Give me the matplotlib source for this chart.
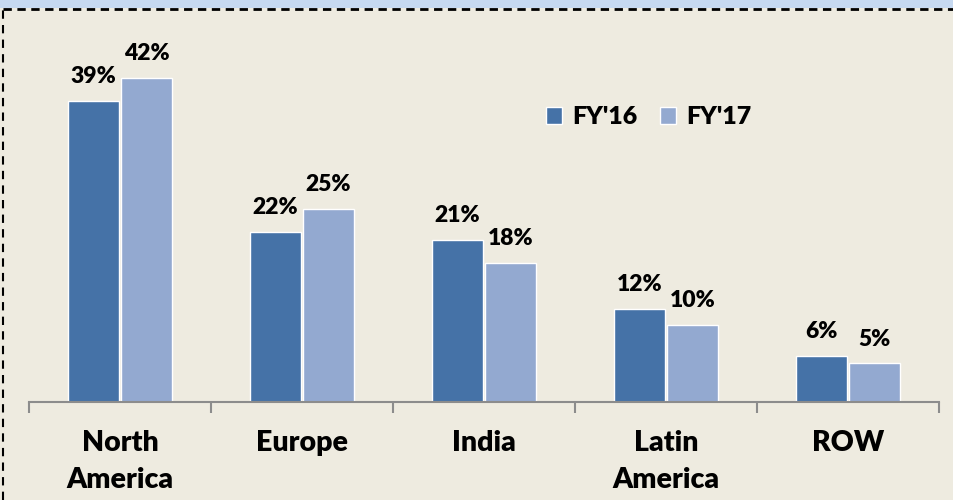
import numpy as np
import matplotlib.pyplot as plt
from matplotlib.lines import Line2D
from matplotlib.patches import Rectangle

regions = ["North\nAmerica", "Europe", "India", "Latin\nAmerica", "ROW"]
fy16 = [39, 22, 21, 12, 6]
fy17 = [42, 25, 18, 10, 5]
series_names = ["FY'16", "FY'17"]

C16 = "#4572A7"
C17 = "#93A9D0"
BG = "#EEEBE0"

plt.rcParams['font.family'] = ['Lato', 'DejaVu Sans']

fig = plt.figure(figsize=(9.54, 5.0), dpi=100)
fig.patch.set_facecolor(BG)

# top blue band + dashed frame
fig.patches.append(Rectangle((0, 1 - 8 / 500), 1, 8 / 500, transform=fig.transFigure,
                             facecolor="#C6D9F1", edgecolor="none"))
fig.lines.append(Line2D([0.003, 1], [1 - 9 / 500] * 2, transform=fig.transFigure,
                        color="black", lw=2, ls=(0, (3, 2))))
fig.lines.append(Line2D([0.003, 0.003], [0, 1 - 9 / 500], transform=fig.transFigure,
                        color="black", lw=1.5, ls=(0, (4, 3))))

ax = fig.add_axes([29 / 954, 98 / 500, 910 / 954, 392 / 500])
ax.set_facecolor(BG)
x = np.arange(len(regions))
w = 0.28
b1 = ax.bar(x - w / 2 - 0.005, fy16, w, color=C16, edgecolor="white", linewidth=1.0, label=series_names[0])
b2 = ax.bar(x + w / 2 + 0.005, fy17, w, color=C17, edgecolor="white", linewidth=1.0, label=series_names[1])

for bars, vals in ((b1, fy16), (b2, fy17)):
    for r, v in zip(bars, vals):
        ax.annotate(f"{v}%", (r.get_x() + r.get_width() / 2, v), xytext=(0, 10),
                    textcoords="offset points", ha="center", va="bottom",
                    fontsize=16.5, fontweight="heavy", color="black")

ax.set_xlim(-0.5, len(regions) - 0.5)
ax.set_ylim(0, 392 / 7.72)
for s in ("top", "right", "left"):
    ax.spines[s].set_visible(False)
ax.spines["bottom"].set_color("#8C8C8C")
ax.spines["bottom"].set_linewidth(1.5)
ax.set_yticks([])
ax.set_xticks(np.arange(-0.5, len(regions), 1.0))
ax.set_xticklabels([])
ax.set_xticks(x, minor=True)
ax.set_xticklabels(regions, minor=True, fontsize=20.5, fontweight="heavy", linespacing=1.55)
ax.tick_params(axis="x", which="major", length=8, width=1.5, color="#8C8C8C")
ax.tick_params(axis="x", which="minor", length=0, pad=20)

leg = ax.legend(loc="center left", bbox_to_anchor=(0.5435, 0.727), ncol=2, frameon=False,
                prop={"size": 18, "weight": "heavy"}, handlelength=0.65, handleheight=0.65,
                handletextpad=0.4, columnspacing=0.9)

fig.savefig("out.png", dpi=100, facecolor=BG)
